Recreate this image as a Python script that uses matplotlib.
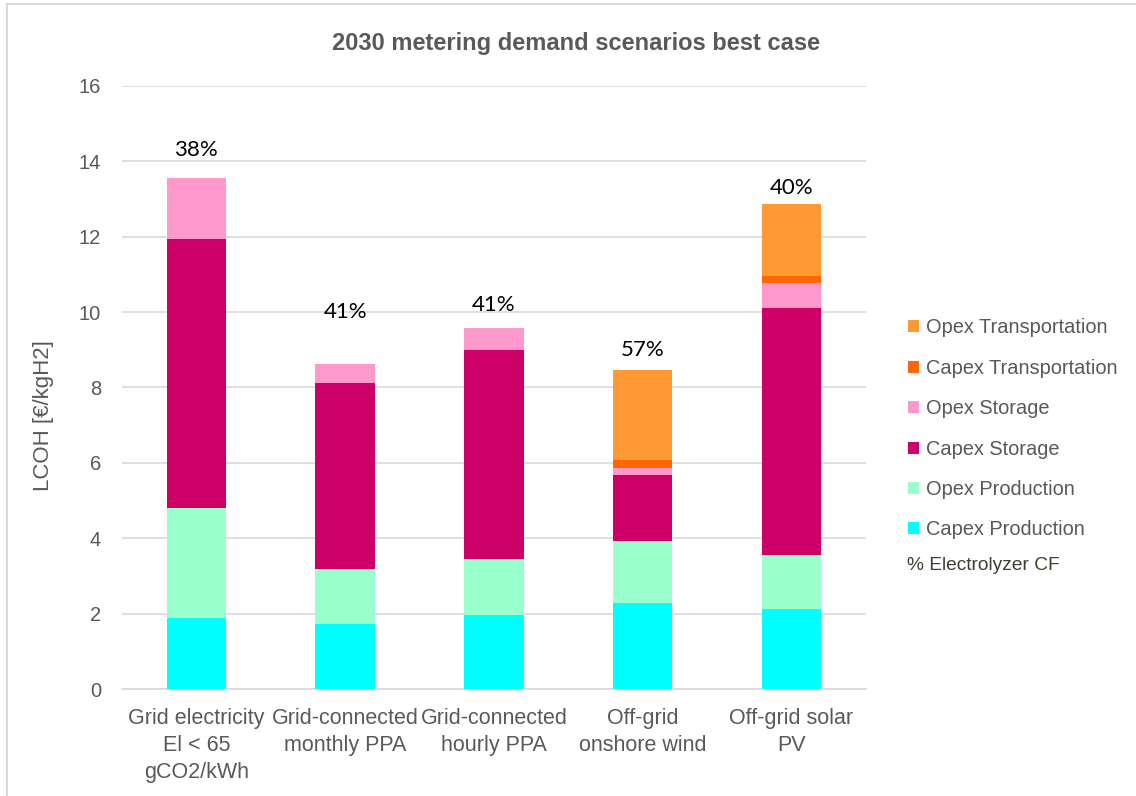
import matplotlib
matplotlib.use("Agg")
import matplotlib.pyplot as plt
from matplotlib.lines import Line2D
from matplotlib.patches import Patch
import numpy as np

plt.rcParams['font.family'] = ['Liberation Sans', 'DejaVu Sans']

# scenario names and stacked cost components (EUR/kgH2)
categories = ['Grid electricity\nEl < 65\ngCO2/kWh', 'Grid-connected\nmonthly PPA',
              'Grid-connected\nhourly PPA', 'Off-grid\nonshore wind', 'Off-grid solar\nPV']
capex_production = [1.88, 1.72, 1.96, 2.28, 2.12]
opex_production = [2.92, 1.46, 1.49, 1.65, 1.44]
capex_storage = [7.14, 4.94, 5.55, 1.75, 6.55]
opex_storage = [1.62, 0.50, 0.58, 0.18, 0.66]
capex_transport = [0.0, 0.0, 0.0, 0.22, 0.20]
opex_transport = [0.0, 0.0, 0.0, 2.38, 1.89]

# electrolyzer capacity factor labels and the height they sit at
cf_labels = ['38%', '41%', '41%', '57%', '40%']
cf_label_y = [14.3, 10.0, 10.2, 9.0, 13.3]

series = [
    ('Capex Production', capex_production, '#00FFFF'),
    ('Opex Production', opex_production, '#99FFCC'),
    ('Capex Storage', capex_storage, '#CC0066'),
    ('Opex Storage', opex_storage, '#FF99CC'),
    ('Capex Transportation', capex_transport, '#FF6600'),
    ('Opex Transportation', opex_transport, '#FF9933'),
]

fig = plt.figure(figsize=(11.36, 7.96), dpi=100)
ax = fig.add_axes([0.1074, 0.1344, 0.6546, 0.7576])

x = np.arange(len(categories))
bottom = np.zeros(len(categories))
for name, vals, col in series:
    ax.bar(x, vals, width=0.4, bottom=bottom, color=col, label=name, zorder=3)
    bottom += np.array(vals)

for xi, lab, ly in zip(x, cf_labels, cf_label_y):
    ax.text(xi, ly, lab, ha='center', va='center', fontsize=16,
            family=['Lato', 'DejaVu Sans'], color='black')

ax.set_xlim(-0.5, len(categories) - 0.5)
ax.set_ylim(0, 16)
ax.set_yticks(range(0, 17, 2))
ax.set_xticks(x)
ax.set_xticklabels(categories, fontsize=15.5, color='#595959', linespacing=1.35)
ax.tick_params(axis='y', labelsize=14.5, labelcolor='#595959', length=0, pad=15)
ax.tick_params(axis='x', length=0, pad=14)
ax.grid(axis='y', color='#D9D9D9', linewidth=1.2, zorder=0)
for side in ['top', 'right', 'left']:
    ax.spines[side].set_visible(False)
ax.spines['bottom'].set_color('#D9D9D9')
ax.spines['bottom'].set_linewidth(1.2)
ax.set_ylabel('LCOH [€/kgH2]', fontsize=16, color='#595959')
ax.yaxis.set_label_coords(-0.0915, 0.453)

fig.text(0.507, 0.945, '2030 metering demand scenarios best case', fontsize=17,
         fontweight='bold', color='#595959', ha='center', va='center')

# legend, reversed to match stacking order
handles = [Patch(facecolor=col, edgecolor='none') for _, _, col in series][::-1]
names = [name for name, _, _ in series][::-1]
fig.legend(handles, names, loc='upper left', bbox_to_anchor=(0.7995, 0.6),
           frameon=False, fontsize=14.4, labelcolor='#595959',
           handlelength=0.55, handleheight=0.55, handletextpad=0.35,
           labelspacing=1.07, borderaxespad=0, borderpad=0)
fig.text(907 / 1136, 1 - 566 / 796, '% Electrolyzer CF', fontsize=13.8,
         color='#3F3F2F', ha='left', va='center')

# light frame around the chart area
fig.add_artist(Line2D([0.0062, 0.0062], [0.0, 0.995], color='#D9D9D9', linewidth=1.5))
fig.add_artist(Line2D([0.0062, 1.0], [0.995, 0.995], color='#D9D9D9', linewidth=1.5))

fig.savefig('out.png', dpi=100)
